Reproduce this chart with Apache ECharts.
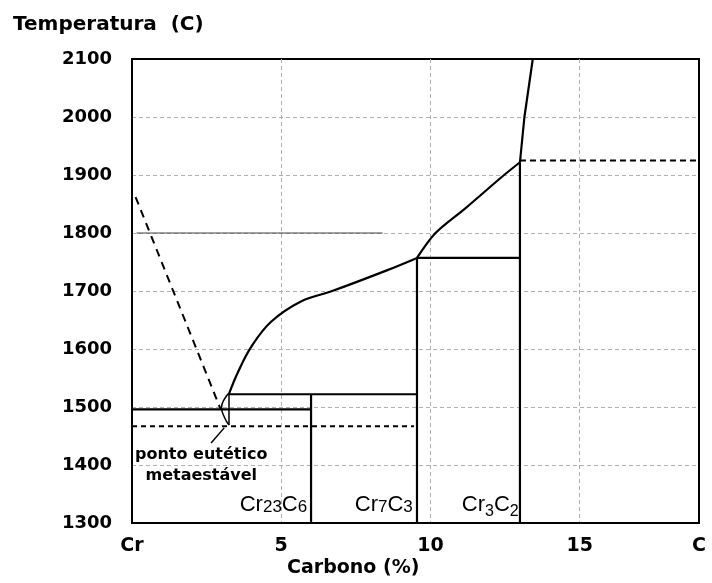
<!DOCTYPE html>
<html>
<head>
<meta charset="utf-8">
<script src="https://cdn.jsdelivr.net/npm/echarts@6/dist/echarts.min.js"></script>
<style>
  html, body { margin: 0; padding: 0; background: #fff; }
  #chart { width: 712px; height: 583px; }
</style>
</head>
<body>
<div id="chart"></div>
<script>
// Cr-C phase diagram, x = % carbono, y = temperatura (C)
const xTicks = { 0: 'Cr', 19: 'C' }

const liquidusA = [[3.26, 1524], [3.55, 1560], [4.0, 1604], [4.66, 1647], [5.66, 1682], [6.66, 1699], [8.56, 1736], [9.55, 1757]]
const liquidusB = [[9.55, 1757], [10.17, 1800], [11.18, 1843], [12.4, 1897], [13.0, 1922]]
const liquidusC = [[13.0, 1922], [13.15, 2000], [13.43, 2100]]
const metaLiquidus = [[0.12, 1862], [2.97, 1496]]
const eutecticLine = [[0, 1496], [6.0, 1496]]
const metaEutectic = [[0, 1467], [9.45, 1467]]
const cr3c2Dashed = [[13.0, 1925], [19, 1925]]
const guide1800 = [[0.15, 1800], [8.4, 1800]]
const cr23c6Box = [[3.25, 1522], [9.55, 1522]]
const cr23c6Wall = [[6.0, 1300], [6.0, 1522]]
const cr7c3Box = [[9.55, 1300], [9.55, 1757], [13.0, 1757]]
const cr3c2Wall = [[13.0, 1300], [13.0, 1922]]
const lensArc = [[3.25, 1524], [3.1, 1514], [3.0, 1499], [3.1, 1482], [3.25, 1469]]
const lensWall = [[3.25, 1524], [3.25, 1469]]
const pointer = [[2.65, 1438], [3.09, 1464]]

const phaseLabels = [
  { value: [5.87, 1331], text: '{a|Cr}{s|23}{a|C}{s|6}' },
  { value: [9.41, 1331], text: '{a|Cr}{s|7}{a|C}{s|3}' },
  { value: [12.96, 1331], text: '{a|Cr}{b|3}{a|C}{b|2}' },
]
const noteLabel = [[2.32, 1400]]

var myChart = echarts.init(document.getElementById('chart'))

const lineSeries = (data, opts = {}) => {
  return Object.assign({
    type: 'line',
    data: data,
    showSymbol: false,
    silent: true,
    lineStyle: { color: '#000', width: 2.2 },
    z: 5,
  }, opts)
}

const boldFont = 'DejaVu Sans'

var option = {
  backgroundColor: '#fff',
  animation: false,
  title: {
    text: 'Temperatura  (C)',
    left: 8,
    top: 10,
    textStyle: { fontFamily: boldFont, fontWeight: 'bold', fontSize: 20, color: '#000' },
  },
  grid: {
    left: 132,
    right: 13,
    top: 59,
    bottom: 60,
    show: true,
    borderColor: '#000',
    borderWidth: 2,
  },
  xAxis: {
    type: 'value',
    min: 0,
    max: 19,
    interval: 5,
    axisLine: { show: true, lineStyle: { color: '#000', width: 2 } },
    axisTick: { show: false },
    axisLabel: {
      margin: 14,
      showMaxLabel: true,
      color: '#000',
      fontFamily: boldFont,
      fontWeight: 'bold',
      fontSize: 19,
      formatter: (v) => (xTicks[v] !== undefined ? xTicks[v] : String(v)),
    },
    splitLine: { show: true, showMinLine: false, showMaxLine: false, lineStyle: { color: '#b0b0b0', width: 1, type: [4, 3] } },
  },
  yAxis: {
    type: 'value',
    min: 1300,
    max: 2100,
    interval: 100,
    axisLine: { show: true, lineStyle: { color: '#000', width: 2 } },
    axisTick: { show: false },
    axisLabel: {
      margin: 20,
      color: '#000',
      fontFamily: boldFont,
      fontWeight: 'bold',
      fontSize: 18,
      formatter: (v) => String(v),
    },
    splitLine: { show: true, showMinLine: false, showMaxLine: false, lineStyle: { color: '#b0b0b0', width: 1, type: [4, 3] } },
  },
  graphic: [
    {
      type: 'text',
      left: 287,
      top: 559,
      style: {
        text: 'Carbono (%)',
        font: 'bold 19px "DejaVu Sans"',
        fill: '#000',
      },
    },
  ],
  series: [
    lineSeries(guide1800, { lineStyle: { color: '#444', width: 1 }, z: 3 }),
    lineSeries(liquidusA, { smooth: 0.4 }),
    lineSeries(liquidusB, { smooth: 0.3 }),
    lineSeries(liquidusC),
    lineSeries(metaLiquidus, { lineStyle: { color: '#000', width: 2, type: [8, 6] } }),
    lineSeries(eutecticLine),
    lineSeries(metaEutectic, { lineStyle: { color: '#000', width: 2, type: [5, 4] } }),
    lineSeries(cr3c2Dashed, { lineStyle: { color: '#000', width: 2, type: [6, 4] } }),
    lineSeries(cr23c6Box),
    lineSeries(cr23c6Wall),
    lineSeries(cr7c3Box),
    lineSeries(cr3c2Wall),
    lineSeries(lensArc, { smooth: 0.5, lineStyle: { color: '#000', width: 1.5 } }),
    lineSeries(lensWall, { lineStyle: { color: '#000', width: 1.5 } }),
    lineSeries(pointer, { lineStyle: { color: '#000', width: 1.5 } }),
    {
      type: 'scatter',
      data: phaseLabels.map((p) => ({ value: p.value, text: p.text })),
      symbolSize: 0,
      silent: true,
      itemStyle: { opacity: 1 },
      label: {
        show: true,
        position: 'left',
        distance: 0,
        formatter: (p) => p.data.text,
        rich: {
          a: { fontFamily: 'Liberation Sans', fontSize: 22, color: '#000' },
          s: { fontFamily: 'Liberation Sans', fontSize: 17, color: '#000', verticalAlign: 'bottom' },
          b: { fontFamily: 'Liberation Sans', fontSize: 16, color: '#000', padding: [13, 0, 0, 0] },
        },
      },
    },
    {
      type: 'scatter',
      data: noteLabel,
      symbolSize: 0,
      silent: true,
      itemStyle: { opacity: 1 },
      label: {
        show: true,
        position: 'inside',
        formatter: 'ponto eutético\nmetaestável',
        fontFamily: boldFont,
        fontWeight: 'bold',
        fontSize: 16,
        lineHeight: 21,
        color: '#000',
        align: 'center',
      },
    },
  ],
}

myChart.setOption(option)
</script>
</body>
</html>
